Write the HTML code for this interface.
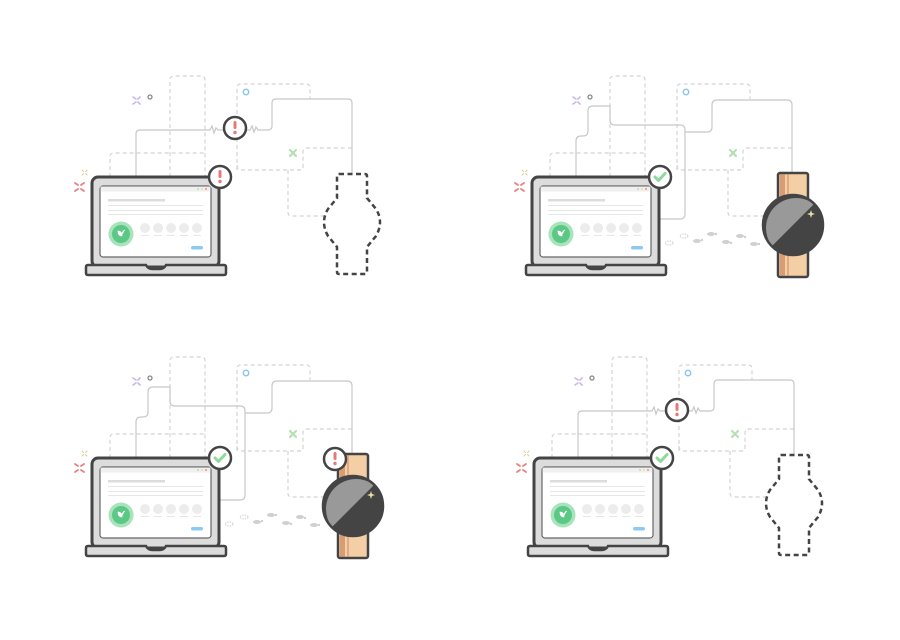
<!DOCTYPE html>
<html><head><style>html,body{margin:0;padding:0;background:#fff}svg{display:block}</style></head>
<body>
<svg width="900" height="640" viewBox="0 0 900 640" xmlns="http://www.w3.org/2000/svg">
<defs>
<g id="bg">
  <g fill="none" stroke="#d4d4d4" stroke-width="1.2" stroke-dasharray="4,3">
    <path d="M170,177 V80 q0,-4 4,-4 H201 q4,0 4,4 V177"/>
    <path d="M237,170 V88 q0,-4 4,-4 H306 q4,0 4,4 V99"/>
    <path d="M110,177 V157 q0,-4 4,-4 H205"/>
    <path d="M237,165 q0,5 5,5 H300 q3,0 3,-3 V152 q0,-4 4,-4 H352"/>
    <path d="M288,170 V212 q0,4 4,4 H325"/>
  </g>
  <g stroke="#c9b8e8" stroke-width="1.6" stroke-linecap="round"><path d="M133,97 l3,2 M140,97 l-2,2 M133,104 l3,-2 M140,104 l-2,-2"/></g>
  <circle cx="150" cy="97" r="2" fill="none" stroke="#888" stroke-width="1.3"/>
  <g stroke="#e88080" stroke-width="1.8" stroke-linecap="round"><path d="M75,183 l3,2 M84,183 l-3,2 M75,191 l3,-2 M84,191 l-3,-2"/></g>
  <g stroke="#d8cf9a" stroke-width="1" stroke-linecap="round"><path d="M82,170 l1.5,1.5 M87,170 l-1.5,1.5 M82,175 l1.5,-1.5 M87,175 l-1.5,-1.5"/></g>
  <circle cx="246" cy="92" r="2.7" fill="none" stroke="#8cc6ee" stroke-width="1.5"/>
  <g stroke="#b7dfb4" stroke-width="2.2" stroke-linecap="round"><path d="M290,150 l6,6 M296,150 l-6,6"/></g>
</g>
<g id="laptop">
  <rect x="92" y="177" width="127" height="90" rx="6" fill="#dcdcdc" stroke="#444" stroke-width="3"/>
  <rect x="100" y="186" width="111" height="71" rx="3" fill="#fff" stroke="#666" stroke-width="1.2"/>
  <rect x="100.6" y="186.6" width="109.8" height="5" fill="#f0f0f0"/>
  <circle cx="198" cy="189" r="1" fill="#b5dfb0"/><circle cx="202" cy="189" r="1" fill="#f1dc9a"/><circle cx="206" cy="189" r="1" fill="#ef8d8d"/>
  <rect x="108" y="199" width="57" height="2.5" fill="#dcdcdc"/>
  <rect x="108" y="205" width="95" height="1" fill="#e6e6e6"/>
  <rect x="108" y="210" width="95" height="1" fill="#e6e6e6"/>
  <rect x="108" y="214" width="95" height="1" fill="#e6e6e6"/>
  <circle cx="121" cy="234" r="12.5" fill="#a8e3bb"/><circle cx="121" cy="234" r="9" fill="#5cc886"/>
  <path d="M118,231 q4,0 4,5 q-4,0 -4,-5 Z M125,230 q-3,1 -3,5" fill="#fff" stroke="#fff" stroke-width="0.8"/>
  <g fill="#ececec"><circle cx="145" cy="228" r="5"/><circle cx="158" cy="228" r="5"/><circle cx="171" cy="228" r="5"/><circle cx="184" cy="228" r="5"/><circle cx="197" cy="228" r="5"/></g>
  <g fill="#e6e6e6"><rect x="141" y="235" width="8" height="1"/><rect x="154" y="235" width="8" height="1"/><rect x="167" y="235" width="8" height="1"/><rect x="180" y="235" width="8" height="1"/><rect x="193" y="235" width="8" height="1"/></g>
  <rect x="191" y="246" width="12" height="3.5" rx="1.7" fill="#8ccbef"/>
  <path d="M88,265 H146 q2,4 6,4 H160 q4,0 6,-4 H224 q2,0 2,2 V273 q0,2 -2,2 H88 q-2,0 -2,-2 V267 q0,-2 2,-2 Z" fill="#dcdcdc" stroke="#444" stroke-width="2.5"/>
</g>
<g id="alert">
  <circle r="11" fill="#fff" stroke="#444" stroke-width="2.5"/>
  <rect x="-1.5" y="-7" width="3" height="8" rx="1.5" fill="#e87878"/>
  <circle cx="0" cy="4.5" r="1.7" fill="#e87878"/>
</g>
<g id="check">
  <circle r="11" fill="#fff" stroke="#444" stroke-width="2.5"/>
  <path d="M-5,0 l3.5,3.5 l6.5,-7" fill="none" stroke="#8fd99a" stroke-width="3" stroke-linecap="round" stroke-linejoin="round"/>
</g>
<g id="dashwatch" fill="none" stroke="#444" stroke-width="2.5" stroke-dasharray="5,3.5">
  <path d="M339,174 H365 q2,0 2,2 V198 L376,209 Q384,222 376,236 L367,247 V272 q0,2 -2,2 H339 q-2,0 -2,-2 V247 L328,236 Q320,222 328,209 L337,198 V176 q0,-2 2,-2 Z"/>
</g>
<g id="watch">
  <rect x="338" y="173" width="30" height="104" rx="2" fill="#f4cfa5" stroke="#444" stroke-width="2.5"/>
  <rect x="340" y="174.5" width="5" height="101" fill="#d99d74"/>
  <rect x="347" y="174.5" width="2" height="101" fill="#e0ab82"/>
  <circle cx="353" cy="225" r="30" fill="#444"/>
  <path d="M374,204 A30,30 0 0 0 332,246 Z" fill="#999"/>
  <circle cx="353" cy="225" r="30" fill="none" stroke="#444" stroke-width="2.5"/>
  <path d="M371,210 l1,3 l3,1 l-3,1 l-1,3 l-1,-3 l-3,-1 l3,-1 Z" fill="#e8e0a8"/>
</g>
<g id="feet" fill="#d0d0d0">
  <ellipse cx="229" cy="243" rx="4" ry="2" fill="none" stroke="#d0d0d0" stroke-dasharray="1.5,1"/>
  <ellipse cx="244" cy="236" rx="4" ry="2" fill="none" stroke="#d0d0d0" stroke-dasharray="1.5,1"/>
  <ellipse cx="257" cy="241" rx="4" ry="2"/><circle cx="262" cy="240" r="1.2"/>
  <ellipse cx="271" cy="234" rx="4" ry="2"/><circle cx="276" cy="234" r="1.2"/>
  <ellipse cx="286" cy="242" rx="4" ry="2"/><circle cx="291" cy="243" r="1.2"/>
  <ellipse cx="300" cy="236" rx="4" ry="2"/><circle cx="305" cy="237" r="1.2"/>
  <ellipse cx="314" cy="244" rx="4" ry="2"/><circle cx="319" cy="244" r="1.2"/>
</g>
<path id="lineA" fill="none" stroke="#c8c8c8" stroke-width="1.2" d="M136,177 V134 q0,-4 4,-4 H210 l2,-4 l2,7 l2,-5 l2,2 H224 M246,130 H250 l2,-4 l2,6 l2,-5 l2,3 H268 q4,0 4,-4 V103 q0,-4 4,-4 H348 q4,0 4,4 V174"/>
<path id="lineB" fill="none" stroke="#c8c8c8" stroke-width="1.2" d="M136,177 V141 q0,-5 5,-5 H143 q5,0 5,-5 V111 q0,-5 5,-5 H170 V120 q0,5 5,5 H240 q5,0 5,5 V214 q0,5 -5,5 H219 M245,132 H267 q5,0 5,-5 V105 q0,-5 5,-5 H347 q5,0 5,5 V173"/>
</defs>

<!-- TL -->
<g>
  <use href="#bg"/><use href="#lineA"/><use href="#laptop"/>
  <use href="#alert" x="235" y="128"/><use href="#alert" x="220" y="177"/>
  <use href="#dashwatch"/>
</g>
<!-- TR -->
<g transform="translate(440,0)">
  <use href="#bg"/><use href="#lineB"/><use href="#laptop"/>
  <use href="#check" x="220" y="177"/><use href="#feet"/><use href="#watch"/>
</g>
<!-- BL -->
<g transform="translate(0,281)">
  <use href="#bg"/><use href="#lineB"/><use href="#laptop"/>
  <use href="#check" x="220" y="177"/><use href="#feet"/><use href="#watch"/>
  <use href="#alert" x="335" y="178"/>
</g>
<!-- BR -->
<g transform="translate(442,281)">
  <use href="#bg"/><use href="#lineA"/><use href="#laptop"/>
  <use href="#alert" x="235" y="129"/><use href="#check" x="220" y="177"/>
  <use href="#dashwatch"/>
</g>
</svg>
</body></html>
